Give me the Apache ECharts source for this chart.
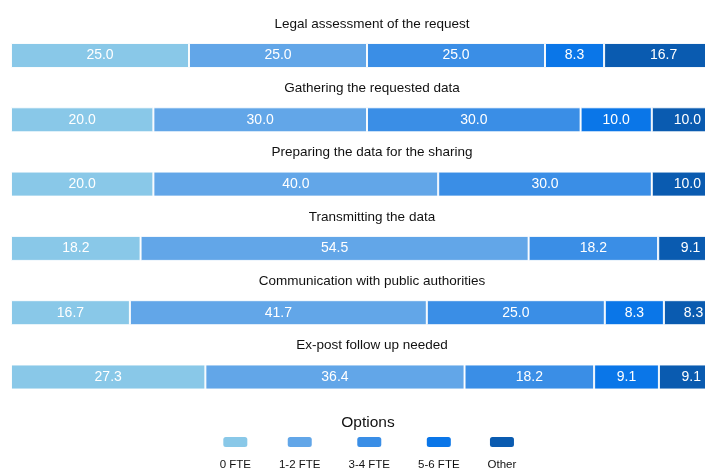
<!DOCTYPE html>
<html>
<head>
<meta charset="utf-8">
<script src="https://cdn.jsdelivr.net/npm/echarts@6/dist/echarts.min.js"></script>
<style>
  html, body { margin: 0; padding: 0; background: #fff; }
  #chart { width: 716px; height: 471px; }
</style>
</head>
<body>
<div id="chart"></div>
<script>
// 各项任务（每一行一个堆叠条）
const tasks = [
  'Legal assessment of the request',
  'Gathering the requested data',
  'Preparing the data for the sharing',
  'Transmitting the data',
  'Communication with public authorities',
  'Ex-post follow up needed'
]

// 图例选项
const options = ['0 FTE', '1-2 FTE', '3-4 FTE', '5-6 FTE', 'Other']

// 每个选项在各任务中的占比 (%)
const fte0 = [25.0, 20.0, 20.0, 18.2, 16.7, 27.3]
const fte12 = [25.0, 30.0, 40.0, 54.5, 41.7, 36.4]
const fte34 = [25.0, 30.0, 30.0, 18.2, 25.0, 18.2]
const fte56 = [8.3, 10.0, 0, 0, 8.3, 9.1]
const other = [16.7, 10.0, 10.0, 9.1, 8.3, 9.1]

const seriesValues = [fte0, fte12, fte34, fte56, other]
const colors = ['#89c8e8', '#62a6e8', '#3a8ee6', '#0a76e8', '#0a5bb0']

const FONT = '"Liberation Sans", Arial, sans-serif'

const chart = echarts.init(document.getElementById('chart'))

// 行布局（原图中条形在右侧被截断：100% 落在 723px，可见区到 705px）
const rowTop = 43
const rowStep = 64.3
const barHeight = 25
const plotLeft = 11
const plotRight = 11
const fullWidth = 712
const visibleWidth = 716 - plotLeft - plotRight
const axisMax = 100 * visibleWidth / fullWidth
const midX = plotLeft + fullWidth / 2

const grids = []
const xAxes = []
const yAxes = []
const titles = []
const series = []

tasks.forEach((task, i) => {
  const top = rowTop + i * rowStep
  grids.push({ left: plotLeft, right: plotRight, top: top, height: barHeight })
  xAxes.push({
    gridIndex: i, type: 'value', min: 0, max: axisMax,
    show: false
  })
  yAxes.push({
    gridIndex: i, type: 'category', data: [task],
    show: false
  })
  titles.push({
    text: task,
    left: midX,
    textAlign: 'center',
    top: top - 31,
    textStyle: { fontFamily: FONT, fontSize: 13.5, fontWeight: 'normal', color: '#111' }
  })
  options.forEach((name, k) => {
    series.push({
      name,
      type: 'bar',
      stack: 'row' + i,
      xAxisIndex: i,
      yAxisIndex: i,
      barWidth: barHeight,
      clip: false,
      data: [seriesValues[k][i]],
      itemStyle: { color: colors[k], borderColor: 'rgba(255,255,255,0.9)', borderWidth: 1 },
      label: {
        show: true,
        position: 'inside',
        color: '#fff',
        fontFamily: FONT,
        fontSize: 14,
        formatter: (p) => p.value ? p.value.toFixed(1) : ''
      },
      silent: true
    })
  })
})

// 图例：图标在上，文字在下（按文字宽度排布，居中）
const canvas = document.createElement('canvas')
const ctx = canvas.getContext('2d')
ctx.font = '11.5px ' + FONT
const widths = options.map(n => ctx.measureText(n).width)
const gap = 28
const total = widths.reduce((a, b) => a + b, 0) + gap * (options.length - 1)
let x = 368 - total / 2
const centers = widths.map(w => {
  const c = x + w / 2
  x += w + gap
  return c
})

const legends = options.map((name, k) => ({
  data: [name],
  left: centers[k] - 12 - 5,
  top: 432,
  itemWidth: 24,
  itemHeight: 10,
  itemStyle: { borderWidth: 0 },
  formatter: () => '',
  selectedMode: false
}))

const graphics = [
  // 右侧遮罩：模拟原图的截断
  {
    type: 'rect',
    shape: { x: 716 - plotRight, y: 30, width: 40, height: 370 },
    style: { fill: '#fff' },
    z: 100,
    silent: true
  },
  {
    type: 'text',
    x: 368,
    y: 423,
    style: { text: 'Options', font: '15.5px ' + FONT, fill: '#111', align: 'center', verticalAlign: 'middle' }
  }
].concat(options.map((name, k) => ({
  type: 'text',
  x: centers[k],
  y: 465,
  style: { text: name, font: '11.5px ' + FONT, fill: '#111', align: 'center', verticalAlign: 'middle' }
})))

chart.setOption({
  animation: false,
  color: colors,
  title: titles,
  grid: grids,
  xAxis: xAxes,
  yAxis: yAxes,
  legend: legends,
  graphic: graphics,
  series
})
</script>
</body>
</html>
